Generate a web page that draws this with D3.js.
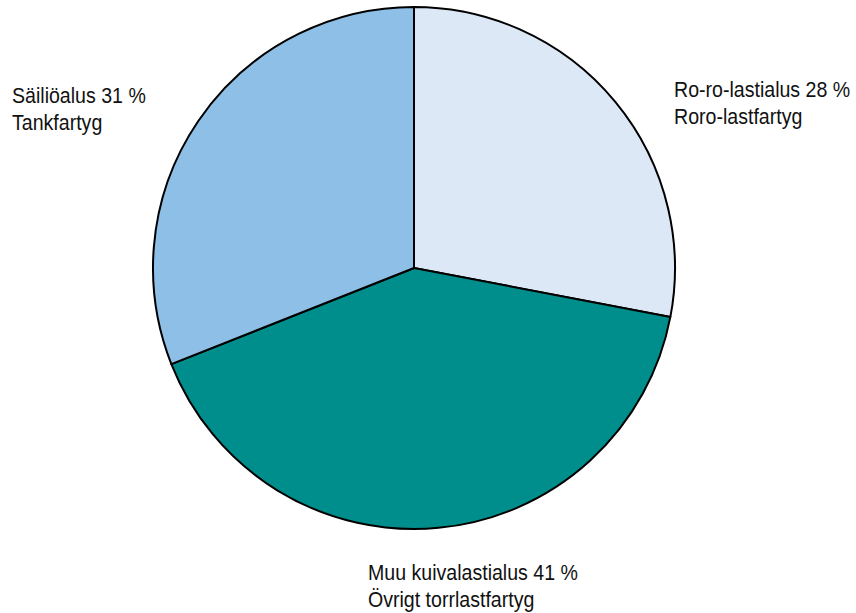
<!DOCTYPE html>
<html>
<head>
<meta charset="utf-8">
<script src="https://cdn.jsdelivr.net/npm/d3@7"></script>
<style>
  body { margin: 0; background: #fff; }
  text { font-family: "Liberation Sans Narrow", "Arial Narrow", "Liberation Sans", sans-serif; font-size: 22px; fill: #111; }
</style>
</head>
<body>
<div id="chart"></div>
<script>
const categories = ["Ro-ro-lastialus", "Muu kuivalastialus", "Säiliöalus"];
const categoriesSv = ["Roro-lastfartyg", "Övrigt torrlastfartyg", "Tankfartyg"];
const shares = [28, 41, 31];
const colors = ["#dde8f6", "#008e8c", "#8ebfe6"];

const dims = { width: 856, height: 613, cx: 414, cy: 268, r: 261 };

const data = categories.map((c, i) => ({ name: c, sv: categoriesSv[i], value: shares[i], color: colors[i] }));

const svg = d3.select("#chart").append("svg")
    .attr("width", dims.width)
    .attr("height", dims.height);

const pie = d3.pie().sort(null).value(d => d.value);
const arc = d3.arc().innerRadius(0).outerRadius(dims.r);
const arcs = pie(data);

const g = svg.append("g").attr("transform", `translate(${dims.cx},${dims.cy})`);

g.selectAll("path")
    .data(arcs)
    .join("path")
    .attr("d", arc)
    .attr("fill", d => d.data.color)
    .attr("stroke", "#000")
    .attr("stroke-width", 2)
    .attr("stroke-linejoin", "round");

// label anchor points (outside the pie), first-line baseline
const labelPos = [
    { x: 674, y: 97 },
    { x: 368, y: 580 },
    { x: 12, y: 103 }
];

const labels = svg.append("g")
    .selectAll("text")
    .data(arcs)
    .join("text")
    .attr("transform", (d, i) => `translate(${labelPos[i].x},${labelPos[i].y}) scale(0.89,1)`);

labels.append("tspan")
    .text(d => `${d.data.name} ${d.data.value} %`);
labels.append("tspan")
    .attr("x", 0)
    .attr("dy", 27)
    .text(d => d.data.sv);
</script>
</body>
</html>
